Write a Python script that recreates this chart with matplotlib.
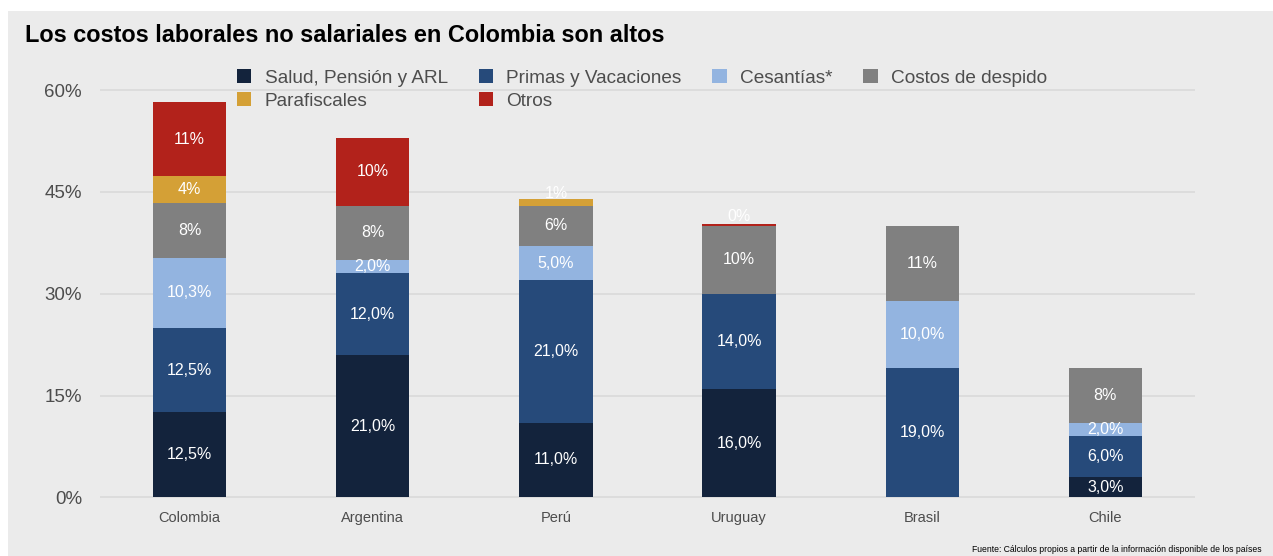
import numpy as np
import matplotlib
matplotlib.use("Agg")
import matplotlib.pyplot as plt
from matplotlib.patches import Rectangle

plt.rcParams['font.family'] = ['Liberation Sans', 'DejaVu Sans']

paises = ['Colombia', 'Argentina', 'Perú', 'Uruguay', 'Brasil', 'Chile']

series = ['Salud, Pensión y ARL', 'Primas y Vacaciones', 'Cesantías*',
          'Costos de despido', 'Parafiscales', 'Otros']

salud = [12.5, 21.0, 11.0, 16.0, 0.0, 3.0]
primas = [12.5, 12.0, 21.0, 14.0, 19.0, 6.0]
cesantias = [10.3, 2.0, 5.0, 0.0, 10.0, 2.0]
despido = [8.0, 8.0, 6.0, 10.0, 11.0, 8.0]
parafiscales = [4.0, 0.0, 1.0, 0.0, 0.0, 0.0]
otros = [11.0, 10.0, 0.0, 0.3, 0.0, 0.0]

# label text per segment ('' = no label)
lab_salud = ['12,5%', '21,0%', '11,0%', '16,0%', '', '3,0%']
lab_primas = ['12,5%', '12,0%', '21,0%', '14,0%', '19,0%', '6,0%']
lab_cesantias = ['10,3%', '2,0%', '5,0%', '', '10,0%', '2,0%']
lab_despido = ['8%', '8%', '6%', '10%', '11%', '8%']
lab_parafiscales = ['4%', '', '1%', '', '', '']
lab_otros = ['11%', '10%', '', '0%', '', '']

colores = ['#13233c', '#264a7a', '#93b4e0', '#808080', '#d4a036', '#b2221b']

valores = [salud, primas, cesantias, despido, parafiscales, otros]
etiquetas = [lab_salud, lab_primas, lab_cesantias, lab_despido,
             lab_parafiscales, lab_otros]

fig = plt.figure(figsize=(12.73, 5.56), dpi=100)
fig.patch.set_facecolor('white')
fig.patches.append(Rectangle((8 / 1273, 0), 1, 1 - 11 / 556,
                             transform=fig.transFigure, facecolor='#ebebeb',
                             edgecolor='none', zorder=-10))

ax = fig.add_axes([100 / 1273, 39 / 556, 1095 / 1273, 435 / 556])
ax.set_facecolor('none')

x = np.arange(len(paises))
bottom = np.zeros(len(paises))
handles = []
for vals, labs, col, name in zip(valores, etiquetas, colores, series):
    vals = np.array(vals)
    bars = ax.bar(x, vals, 0.4, bottom=bottom, color=col, label=name,
                  edgecolor='none', zorder=3)
    handles.append(bars)
    for i, (v, t) in enumerate(zip(vals, labs)):
        if t == '':
            continue
        yc = bottom[i] + v / 2
        if v < 1.5:
            yc += 1.2
        ax.text(x[i], yc, t, ha='center', va='center', color='white',
                fontsize=11.5, zorder=4)
    bottom += vals

ax.set_xlim(-0.49, 5.49)
ax.set_ylim(-2.9, 61.2)
ax.set_yticks([0, 15, 30, 45, 60])
ax.set_yticklabels(['0%', '15%', '30%', '45%', '60%'])
ax.set_xticks(x)
ax.set_xticklabels(paises)
ax.tick_params(axis='y', length=0, labelsize=13.5, labelcolor='#4d4d4d', pad=13)
ax.tick_params(axis='x', length=0, labelsize=10.5, labelcolor='#4d4d4d', pad=-4)
ax.grid(axis='y', color='#d9d9d9', linewidth=1.2, zorder=0)
for s in ax.spines.values():
    s.set_visible(False)

# legend: row-wise order
orden = [0, 4, 1, 5, 2, 3]
leg = fig.legend([handles[i] for i in orden], [series[i] for i in orden],
                 ncol=4, loc='upper left', bbox_to_anchor=(220 / 1273, 1 - 52 / 556),
                 frameon=False, fontsize=13.7, handlelength=0.75, handleheight=0.75,
                 handletextpad=0.7, columnspacing=1.62, labelspacing=0.3)
for t in leg.get_texts():
    t.set_color('#4d4d4d')

fig.text(25 / 1273, 1 - 35 / 556, 'Los costos laborales no salariales en Colombia son altos',
         fontsize=16.9, fontweight='bold', va='center', ha='left', color='black')
fig.text(1262 / 1273, 1 - 549 / 556,
         'Fuente: Cálculos propios a partir de la información disponible de los países',
         fontsize=6.2, ha='right', va='center', color='black')

fig.savefig('out.png', dpi=100)
